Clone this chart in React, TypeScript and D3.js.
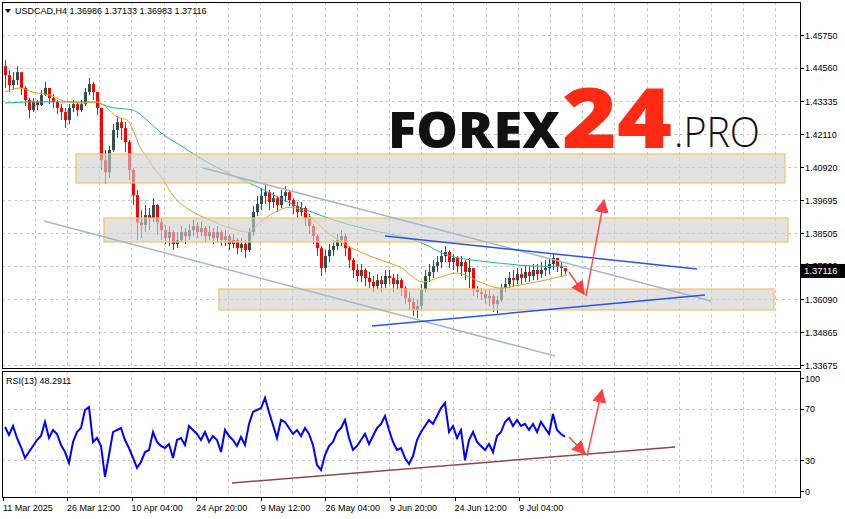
import React from "react";
import * as d3 from "d3";

// ---------- DATA ----------
const firstOpen = 1.4461;
const closes = [
  1.4428, 1.4392, 1.441, 1.4439, 1.4381, 1.4337, 1.43, 1.433, 1.4319, 1.4355,
  1.4381, 1.4344, 1.433, 1.4308, 1.4293, 1.4264, 1.4308, 1.4322, 1.43, 1.4322,
  1.4366, 1.4396, 1.4366, 1.4308, 1.4117, 1.4073, 1.4154, 1.4227, 1.4256, 1.4235,
  1.4183, 1.4081, 1.3989, 1.389, 1.388, 1.3916, 1.3905, 1.3953, 1.389, 1.3861,
  1.3832, 1.3854, 1.381, 1.3825, 1.3854, 1.3839, 1.3861, 1.3876, 1.3854, 1.3869,
  1.3839, 1.3854, 1.3832, 1.3854, 1.3825, 1.3839, 1.381, 1.3825, 1.3795, 1.381,
  1.3788, 1.3854, 1.3927, 1.3956, 1.3986, 1.4, 1.3964, 1.3978, 1.3953, 1.3986,
  1.4, 1.3971, 1.3949, 1.3927, 1.3942, 1.3905, 1.3876, 1.3839, 1.3795, 1.3722,
  1.3766, 1.3788, 1.3803, 1.3825, 1.3839, 1.3795, 1.3751, 1.3715, 1.3693, 1.3715,
  1.3686, 1.3671, 1.3656, 1.3678, 1.3664, 1.3693, 1.3686, 1.3664, 1.3678, 1.3649,
  1.3612, 1.3598, 1.3568, 1.3583, 1.3642, 1.3693, 1.3708, 1.3729, 1.3744, 1.3766,
  1.3781, 1.3744, 1.3759, 1.3729, 1.3744, 1.3708, 1.3722, 1.3642, 1.3634, 1.3627,
  1.3612, 1.362, 1.359, 1.3605, 1.3649, 1.3664, 1.3686, 1.3678, 1.37, 1.3686,
  1.3708, 1.3693, 1.3715, 1.37, 1.3715, 1.3722, 1.3737, 1.3759, 1.3729, 1.3722,
  1.37116,
];
const highs = [
  1.4483, 1.4447, 1.4439, 1.4461, 1.4432, 1.4388, 1.4344, 1.4344, 1.4337, 1.4374,
  1.4403, 1.4381, 1.4359, 1.4337, 1.4322, 1.4308, 1.4322, 1.4337, 1.433, 1.4337,
  1.4381, 1.4418, 1.4403, 1.4366, 1.4308, 1.4154, 1.4169, 1.4249, 1.4278, 1.4271,
  1.4256, 1.4191, 1.4088, 1.4008, 1.3934, 1.3953, 1.3942, 1.3978, 1.3956, 1.3905,
  1.388, 1.3876, 1.3861, 1.3854, 1.3876, 1.3869, 1.3883, 1.3898, 1.389, 1.389,
  1.3876, 1.3876, 1.3869, 1.3876, 1.3861, 1.3861, 1.3847, 1.3847, 1.3832, 1.3832,
  1.3825, 1.3869, 1.3949, 1.3986, 1.4015, 1.403, 1.4008, 1.4, 1.3986, 1.4008,
  1.4022, 1.4008, 1.3978, 1.3964, 1.3964, 1.3949, 1.392, 1.3883, 1.3847, 1.3803,
  1.3788, 1.381, 1.3825, 1.3847, 1.3861, 1.3847, 1.3803, 1.3759, 1.3737, 1.3737,
  1.3722, 1.3708, 1.3693, 1.37, 1.3693, 1.3715, 1.3715, 1.37, 1.37, 1.3686,
  1.3656, 1.3634, 1.3612, 1.3605, 1.3664, 1.3715, 1.3737, 1.3751, 1.3766, 1.3788,
  1.3803, 1.3788, 1.3773, 1.3766, 1.3766, 1.3751, 1.3759, 1.3722, 1.3656, 1.3649,
  1.3642, 1.3642, 1.3627, 1.362, 1.3664, 1.3686, 1.3708, 1.3715, 1.3722, 1.3722,
  1.3729, 1.3729, 1.3737, 1.3737, 1.3744, 1.3751, 1.3759, 1.3773, 1.3759, 1.3744,
  1.37133,
];
const lows = [
  1.4381, 1.4366, 1.4374, 1.4392, 1.4355, 1.4315, 1.4271, 1.4293, 1.43, 1.4315,
  1.4352, 1.4322, 1.4308, 1.4286, 1.4264, 1.4235, 1.4249, 1.4293, 1.4278, 1.4293,
  1.4315, 1.4355, 1.4337, 1.4282, 1.4081, 1.403, 1.4052, 1.4147, 1.4198, 1.4191,
  1.4147, 1.4044, 1.3953, 1.3825, 1.3832, 1.3854, 1.3861, 1.389, 1.3843, 1.3825,
  1.381, 1.3803, 1.3788, 1.3795, 1.3817, 1.381, 1.3825, 1.3839, 1.3832, 1.3839,
  1.3817, 1.3825, 1.381, 1.3817, 1.3803, 1.3803, 1.3788, 1.3795, 1.3773, 1.3781,
  1.3759, 1.3781, 1.3839, 1.3912, 1.3934, 1.3956, 1.3934, 1.3942, 1.3927, 1.3942,
  1.3964, 1.3949, 1.392, 1.3905, 1.3912, 1.3876, 1.3847, 1.381, 1.3766, 1.3693,
  1.3708, 1.3744, 1.3766, 1.3788, 1.3803, 1.3766, 1.3722, 1.3686, 1.3671, 1.3671,
  1.3656, 1.3649, 1.3634, 1.3642, 1.3634, 1.3649, 1.3664, 1.3634, 1.3642, 1.362,
  1.359, 1.3568, 1.3546, 1.3539, 1.3568, 1.3634, 1.3671, 1.3686, 1.3708, 1.3722,
  1.3744, 1.3722, 1.3715, 1.3708, 1.3693, 1.3678, 1.3649, 1.362, 1.3612, 1.3605,
  1.359, 1.3583, 1.3561, 1.3557, 1.3598, 1.3634, 1.3649, 1.3656, 1.3664, 1.3664,
  1.3671, 1.3671, 1.3678, 1.3678, 1.3686, 1.3693, 1.37, 1.3715, 1.3708, 1.3693,
  1.36983,
];

// moving averages, sampled at bar positions
const maFastIdx = [0, 3.75, 7, 11.25, 15.5, 19.5, 23, 25.5, 28, 30.5, 32, 33.75, 35.5, 37, 38.75, 42.5, 46.25, 51.25, 56.25, 60.75, 63.75, 67.5, 71.25, 75, 78.75, 82.5, 86.25, 91.25, 96.25, 98.75, 104.5, 108.75, 113, 118.75, 123.75, 128.75, 135, 140.5];
const maFastVal = [1.4366, 1.4381, 1.4366, 1.4355, 1.433, 1.4326, 1.433, 1.4308, 1.4275, 1.4264, 1.4227, 1.4165, 1.4128, 1.4092, 1.4062, 1.3978, 1.3934, 1.3898, 1.3869, 1.3854, 1.389, 1.3927, 1.3945, 1.3927, 1.3876, 1.3832, 1.3799, 1.3766, 1.374, 1.3726, 1.3671, 1.3689, 1.3704, 1.3671, 1.3649, 1.366, 1.3678, 1.3697];
const maSlowIdx = [0, 7, 15.5, 22, 26.25, 32, 35.5, 38.75, 43.75, 48.75, 56.25, 63.75, 71.25, 78.75, 86.25, 93.75, 98.75, 103.75, 110.5, 118.75, 123.75, 133.75, 140.5];
const maSlowVal = [1.4326, 1.433, 1.433, 1.433, 1.4311, 1.43, 1.4264, 1.422, 1.4172, 1.4125, 1.4066, 1.4015, 1.396, 1.3916, 1.388, 1.3854, 1.3839, 1.3817, 1.377, 1.3748, 1.374, 1.3729, 1.3729];

const rsi = [
  55.8, 49.6, 56.6, 47.3, 40.3, 31.8, 36.4, 41.1, 45.7, 48.8,
  59.7, 47.3, 53.5, 50.4, 41.9, 36.4, 27.9, 44.2, 51.9, 55.0,
  69.0, 71.3, 44.2, 47.3, 41.1, 17.1, 34.1, 51.9, 53.5, 55.0,
  45.7, 39.5, 31.8, 24.1, 28.7, 36.4, 38.0, 51.9, 44.2, 41.1,
  39.5, 42.6, 31.8, 45.7, 47.3, 41.9, 56.6, 53.5, 50.4, 45.7,
  51.9, 44.2, 48.8, 45.7, 36.4, 53.5, 48.8, 45.7, 41.1, 48.1,
  41.9, 58.2, 67.5, 69.0, 70.5, 78.4, 67.5, 57.4, 47.3, 61.2,
  59.7, 55.0, 50.4, 53.5, 48.8, 55.0, 50.4, 41.9, 26.4, 22.5,
  34.1, 41.1, 44.2, 51.9, 55.0, 61.2, 47.3, 38.0, 41.1, 45.7,
  50.4, 42.6, 48.8, 55.0, 58.2, 64.3, 53.5, 44.2, 38.0, 39.5,
  31.8, 27.1, 33.3, 45.7, 51.9, 56.6, 61.2, 58.2, 64.3, 70.5,
  74.4, 51.9, 56.6, 47.3, 53.5, 30.2, 45.7, 51.9, 44.2, 41.1,
  38.0, 42.6, 36.4, 48.8, 51.9, 59.7, 62.8, 56.6, 61.2, 56.6,
  58.2, 53.5, 58.2, 51.9, 59.7, 55.0, 50.4, 65.9, 53.5, 50.4,
  48.2911,
];

const priceTicks = [1.4575, 1.4456, 1.43335, 1.4211, 1.4092, 1.39695, 1.38505, 1.373, 1.3609, 1.34865, 1.33675];
const rsiTicks = [100, 70, 30, 0];
const rsiLevels = [70, 30];
const dateLabels = ["11 Mar 2025", "26 Mar 12:00", "10 Apr 04:00", "24 Apr 20:00", "9 May 12:00", "26 May 04:00", "9 Jun 20:00", "24 Jun 12:00", "9 Jul 04:00"];
const dateLabelIdx = [-0.6, 15.5, 31.65, 47.8, 63.95, 80.1, 96.25, 112.4, 128.55];

// analysis objects (bar index, price)
const zones = [
  { i0: 17.75, i1: 195, top: 1.41396, bottom: 1.40335 },
  { i0: 24.75, i1: 195.75, top: 1.39054, bottom: 1.38176 },
  { i0: 53.5, i1: 192.25, top: 1.36456, bottom: 1.35688 },
];
const grayLines = [
  { a: [9.75, 1.38944], b: [137.5, 1.34004] },
  { a: [49.5, 1.40883], b: [176.5, 1.3602] },
];
const blueLines = [
  { a: [95, 1.38395], b: [173, 1.37188] },
  { a: [91.75, 1.35102], b: [175, 1.36236] },
];
const priceArrows = [
  { a: [141, 1.37078], b: [144.75, 1.36273] },
  { a: [145.25, 1.362], b: [149.75, 1.39712] },
];
const rsiArrows = [
  { a: [141, 48.1], b: [145, 34.9] },
  { a: [145.5, 33.3], b: [149.25, 84.5] },
];
const rsiTrend = { a: [56.75, 12.4], b: [167.5, 40.3] };

const title = "USDCAD,H4  1.36986 1.37133 1.36983 1.37116";
const rsiTitle = "RSI(13) 48.2911";
const lastPrice = "1.37116";

// ---------- LAYOUT ----------
const W = 845;
const H = 519;
const L = 2, R = 800;
const mainTop = 2, mainBot = 368;
const rsiTop = 371, rsiBot = 497;
const FONT = "'Liberation Sans', Arial, sans-serif";
const GRID = "#c8c8c8";

export default function App() {
  const x = d3.scaleLinear().domain([0, 140]).range([5, 565]);
  const y = d3.scaleLinear().domain([1.33675, 1.4575]).range([365, 35]);
  const yr = d3.scaleLinear().domain([0, 100]).range([499, 370]);

  const opens = closes.map((_, i) => (i === 0 ? firstOpen : closes[i - 1]));

  const gridIdx: number[] = [];
  for (let k = 0; k < 30; k++) {
    const gi = dateLabelIdx[0] + (k * (dateLabelIdx[1] - dateLabelIdx[0])) / 2;
    if (x(gi) > L + 20 && x(gi) < R) gridIdx.push(gi);
  }

  const fastLine = d3
    .line<number>()
    .x((_, i) => x(maFastIdx[i]))
    .y((d) => y(d))
    .curve(d3.curveMonotoneX)(maFastVal);
  const slowLine = d3
    .line<number>()
    .x((_, i) => x(maSlowIdx[i]))
    .y((d) => y(d))
    .curve(d3.curveMonotoneX)(maSlowVal);
  const rsiLine = d3
    .line<number>()
    .x((_, i) => x(i))
    .y((d) => yr(d))(rsi);

  return (
    <svg
      width={W}
      height={H}
      style={{ position: "absolute", left: 0, top: 0, background: "#fff" }}
      fontFamily={FONT}
    >
      <defs>
        <clipPath id="mainClip">
          <rect x={L} y={mainTop} width={R - L} height={mainBot - mainTop} />
        </clipPath>
        <clipPath id="rsiClip">
          <rect x={L} y={rsiTop} width={R - L} height={rsiBot - rsiTop} />
        </clipPath>
        <marker id="arrowHead" viewBox="0 0 10 10" refX="9" refY="5" markerWidth="14" markerHeight="14" markerUnits="userSpaceOnUse" orient="auto">
          <path d="M0,0 L10,5 L0,10 Z" fill="#ff4040" />
        </marker>
      </defs>
      <rect x={0} y={0} width={W} height={H} fill="#fff" />

      {/* grid main */}
      <g stroke={GRID} strokeDasharray="3,3" strokeWidth={1}>
        {priceTicks.map((t) => (
          <line key={"h" + t} x1={L} x2={R} y1={Math.round(y(t)) + 0.5} y2={Math.round(y(t)) + 0.5} />
        ))}
        {gridIdx.map((gi) => (
          <line key={"vm" + gi} x1={Math.round(x(gi)) + 0.5} x2={Math.round(x(gi)) + 0.5} y1={mainTop} y2={mainBot} />
        ))}
        {rsiLevels.map((t) => (
          <line key={"r" + t} x1={L} x2={R} y1={Math.round(yr(t)) + 0.5} y2={Math.round(yr(t)) + 0.5} />
        ))}
        {gridIdx.map((gi) => (
          <line key={"vr" + gi} x1={Math.round(x(gi)) + 0.5} x2={Math.round(x(gi)) + 0.5} y1={rsiTop} y2={rsiBot} />
        ))}
      </g>

      {/* logo */}
      <g>
        <text x={388} y={148} fontFamily="'Open Sans', sans-serif" fontWeight={800} fontSize={49} textLength={172} lengthAdjust="spacingAndGlyphs" fill="#111">FOREX</text>
        <text x={562} y={148} fontFamily="'Open Sans', sans-serif" fontWeight={800} fontSize={84} textLength={110} lengthAdjust="spacingAndGlyphs" fill="#ff2a14">24</text>
        <text x={674} y={147} fontFamily="'Open Sans', sans-serif" fontWeight={300} fontSize={42} textLength={86} lengthAdjust="spacingAndGlyphs" fill="#111">.PRO</text>
      </g>

      <g clipPath="url(#mainClip)">
        {/* candles */}
        {closes.map((c, i) => {
          const o = opens[i];
          const up = c >= o;
          const col = up ? "#2f4f4f" : "#ff0000";
          const cx = Math.round(x(i)) + 0.5;
          const yt = y(Math.max(o, c));
          const yb = y(Math.min(o, c));
          return (
            <g key={"c" + i}>
              <line x1={cx} x2={cx} y1={y(highs[i])} y2={y(lows[i])} stroke={col} strokeWidth={1} />
              <rect x={cx - 1.5} y={yt} width={3} height={Math.max(1, yb - yt)} fill={col} />
            </g>
          );
        })}
        {/* moving averages */}
        <path d={slowLine || ""} fill="none" stroke="#20b2aa" strokeWidth={1} />
        <path d={fastLine || ""} fill="none" stroke="#daa520" strokeWidth={1} />

        {/* zones */}
        {zones.map((z, k) => (
          <rect
            key={"z" + k}
            x={x(z.i0)}
            y={y(z.top)}
            width={x(z.i1) - x(z.i0)}
            height={y(z.bottom) - y(z.top)}
            fill="rgba(208,208,208,0.62)"
            stroke="#f2c16a"
            strokeWidth={1.2}
          />
        ))}
        {grayLines.map((l, k) => (
          <line key={"g" + k} x1={x(l.a[0])} y1={y(l.a[1])} x2={x(l.b[0])} y2={y(l.b[1])} stroke="#a6b8ca" strokeWidth={1.5} />
        ))}
        {blueLines.map((l, k) => (
          <line key={"b" + k} x1={x(l.a[0])} y1={y(l.a[1])} x2={x(l.b[0])} y2={y(l.b[1])} stroke="#2a56e8" strokeWidth={1.5} />
        ))}
        {priceArrows.map((l, k) => (
          <line key={"pa" + k} x1={x(l.a[0])} y1={y(l.a[1])} x2={x(l.b[0])} y2={y(l.b[1])} stroke="#ff4a4a" strokeWidth={1.5} markerEnd="url(#arrowHead)" />
        ))}
      </g>

      <g clipPath="url(#rsiClip)">
        <path d={rsiLine || ""} fill="none" stroke="#0000ff" strokeWidth={2} />
        <line x1={x(rsiTrend.a[0])} y1={yr(rsiTrend.a[1])} x2={x(rsiTrend.b[0])} y2={yr(rsiTrend.b[1])} stroke="#8b4a4a" strokeWidth={1.5} />
        {rsiArrows.map((l, k) => (
          <line key={"ra" + k} x1={x(l.a[0])} y1={yr(l.a[1])} x2={x(l.b[0])} y2={yr(l.b[1])} stroke="#ff4a4a" strokeWidth={1.5} markerEnd="url(#arrowHead)" />
        ))}
      </g>

      {/* frames */}
      <rect x={L + 0.5} y={mainTop + 0.5} width={R - L} height={mainBot - mainTop} fill="none" stroke="#000" strokeWidth={1} />
      <rect x={L + 0.5} y={rsiTop + 0.5} width={R - L} height={rsiBot - rsiTop} fill="none" stroke="#000" strokeWidth={1} />

      {/* price axis */}
      <g fontSize={9} fill="#000">
        {priceTicks.map((t) => (
          <g key={"pt" + t}>
            <line x1={R} x2={R + 4} y1={Math.round(y(t)) + 0.5} y2={Math.round(y(t)) + 0.5} stroke="#000" />
            <text x={R + 5} y={y(t) + 3.5}>{t.toFixed(5)}</text>
          </g>
        ))}
        <rect x={R + 1} y={y(closes[closes.length - 1]) - 7} width={44} height={14} fill="#000" />
        <text x={R + 4} y={y(closes[closes.length - 1]) + 3.5} fill="#fff" fontSize={9.5}>{lastPrice}</text>
      </g>

      {/* rsi axis */}
      <g fontSize={9} fill="#000">
        {rsiTicks.map((t) => {
          const ty = t === 100 ? rsiTop + 7 : t === 0 ? rsiBot - 6 : yr(t);
          return (
            <g key={"rt" + t}>
              <line x1={R} x2={R + 4} y1={Math.round(ty) + 0.5} y2={Math.round(ty) + 0.5} stroke="#000" />
              <text x={R + 5} y={ty + 3.5}>{t}</text>
            </g>
          );
        })}
      </g>

      {/* time axis */}
      <g fontSize={9} fill="#000">
        {dateLabels.map((lab, k) => {
          const lx = Math.max(3, x(dateLabelIdx[k]));
          return (
            <g key={"d" + k}>
              <line x1={Math.round(lx) + 0.5} x2={Math.round(lx) + 0.5} y1={rsiBot} y2={rsiBot + 4} stroke="#000" />
              <text x={lx} y={511}>{lab}</text>
            </g>
          );
        })}
      </g>

      {/* titles */}
      <g fontSize={9} fill="#000">
        <path d="M5,9 L11,9 L8,13 Z" fill="#000" />
        <text x={15} y={14}>{title}</text>
        <text x={6} y={384}>{rsiTitle}</text>
      </g>
    </svg>
  );
}
